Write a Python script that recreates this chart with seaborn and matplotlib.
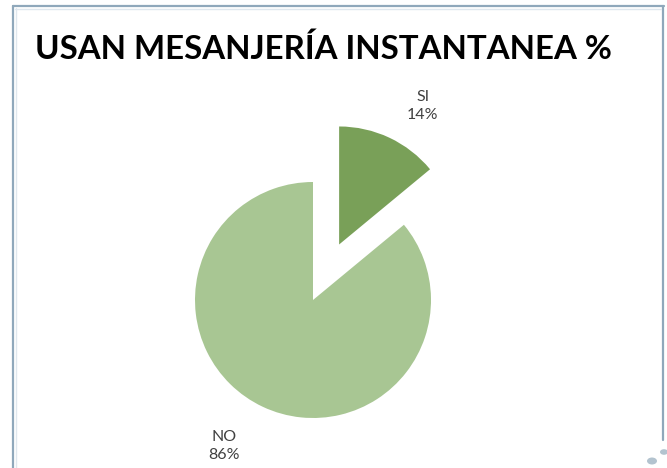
import numpy as np
import matplotlib
matplotlib.use("Agg")
import matplotlib.pyplot as plt
from matplotlib import font_manager
from matplotlib.lines import Line2D
from matplotlib.patches import Circle
import seaborn as sns

# Survey result: share of respondents who use instant messaging
categories = ["SI", "NO"]
percentages = [14, 86]
title = "USAN MESANJERÍA INSTANTANEA %"

slice_colors = ["#79a058", "#a8c693"]

sns.set_theme(style="white")
plt.rcParams["font.family"] = ["Lato", "DejaVu Sans"]

installed = {f.name for f in font_manager.fontManager.ttflist}
title_family = "Liberation Sans Narrow" if "Liberation Sans Narrow" in installed else "Lato"

W, H = 667, 468
fig = plt.figure(figsize=(W / 100, H / 100), dpi=100)
fig.patch.set_facecolor("white")

# pie centre at (313, 300) px with radius 118 px
cx, cy, r_px = 313, 300, 118
lim = 1.4
half = lim * r_px
ax = fig.add_axes([(cx - half) / W, (H - cy - half) / H, 2 * half / W, 2 * half / H])

wedges, _ = ax.pie(
    percentages,
    colors=slice_colors,
    startangle=90,
    counterclock=False,
    explode=[0.52, 0.0],
    radius=1.0,
    wedgeprops=dict(linewidth=0),
)
ax.set_xlim(-lim, lim)
ax.set_ylim(-lim, lim)
ax.set_aspect("equal")
ax.axis("off")

# category labels placed outside each wedge
for w, cat, pct, dist in zip(wedges, categories, percentages, [1.37, 1.45]):
    mid = np.deg2rad((w.theta1 + w.theta2) / 2 - 6)
    x0, y0 = w.center
    ax.text(x0 + dist * np.cos(mid), y0 + dist * np.sin(mid),
            f"{cat}\n{pct}%", ha="center", va="center",
            fontsize=11.5, color="#404040", linespacing=1.35)

# title sized to span 577 px
t = fig.text(323 / W, 1 - 49 / H, title, ha="center", va="center",
             fontsize=30, fontweight="bold", color="black",
             family=[title_family, "DejaVu Sans"])
renderer = fig.canvas.get_renderer()
tw = t.get_window_extent(renderer).width
t.set_fontsize(min(30 * 577 / tw, 31))

# slide frame
frame_col = "#8fa8bb"
fig.add_artist(Line2D([13 / W, 664 / W], [1 - 6 / H, 1 - 6 / H], color=frame_col, lw=1.6))
fig.add_artist(Line2D([13 / W, 13 / W], [0, 1 - 6 / H], color=frame_col, lw=1.6))
fig.add_artist(Line2D([663 / W, 663 / W], [1 - 440 / H, 1 - 6 / H], color=frame_col, lw=1.6))
fig.add_artist(Line2D([15 / W, 661 / W], [1 - 8.5 / H, 1 - 8.5 / H], color="#dfe7ee", lw=1))
fig.add_artist(Line2D([15.5 / W, 15.5 / W], [0, 1 - 8 / H], color="#dfe7ee", lw=1))

# corner ornament dots
for (px, py, pr) in [(652, 461, 5), (664, 452, 4)]:
    fig.add_artist(Circle((px / W, 1 - py / H), pr / W, transform=fig.transFigure,
                          color="#b3c3cf", lw=0))

fig.savefig("out.png", dpi=100)
